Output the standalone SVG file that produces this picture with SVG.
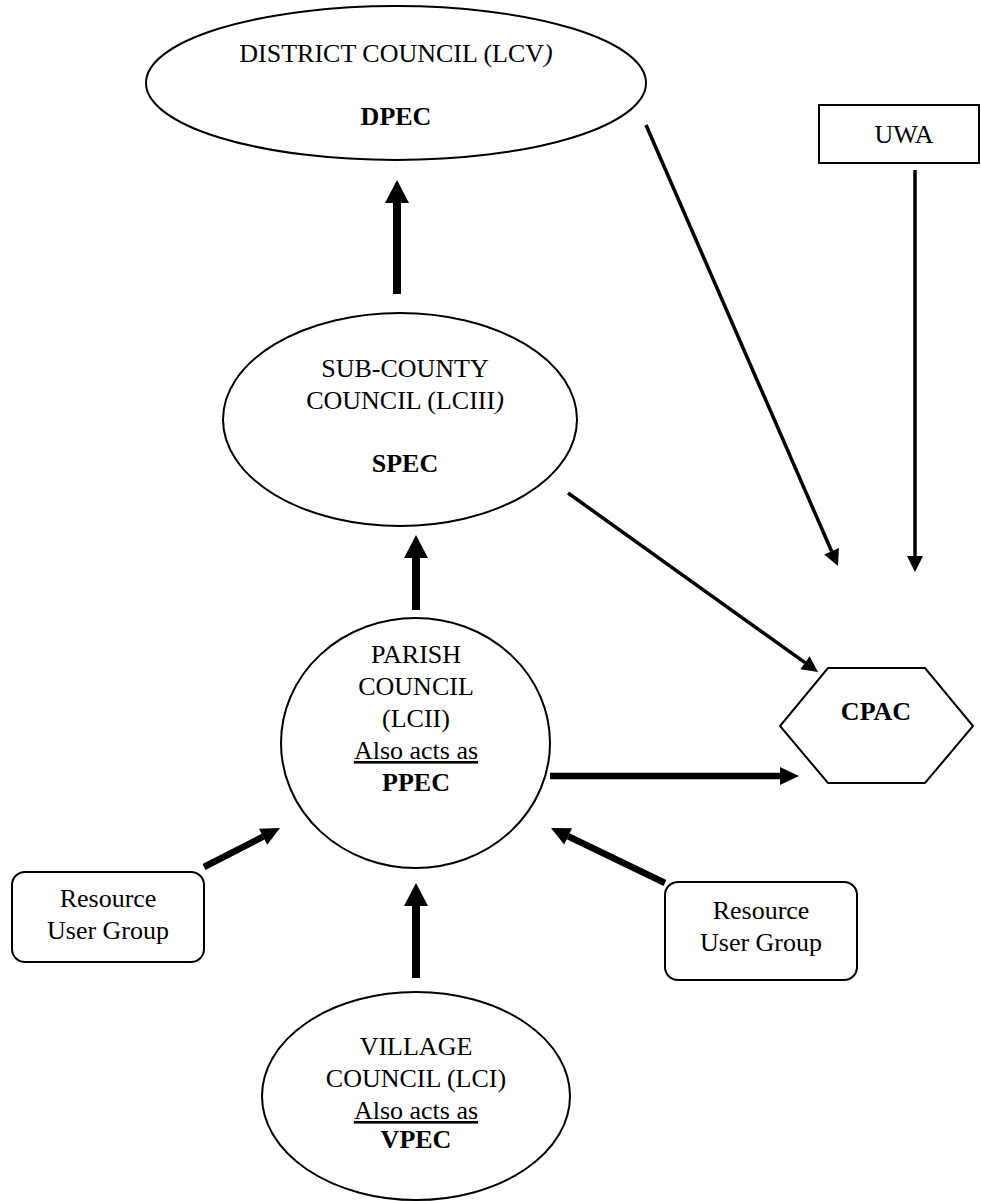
<svg xmlns="http://www.w3.org/2000/svg" width="981" height="1201" viewBox="0 0 981 1201">
<style>
.shape{fill:#fff;stroke:#000;stroke-width:2}
.t{font-family:"Liberation Serif","Times New Roman",serif;font-size:26px;fill:#000;text-anchor:middle}
.b{font-weight:bold}
.i{font-style:italic}
.u{text-decoration:underline}
.thin{stroke:#000;stroke-width:3.5;fill:none}
.mid{stroke:#000;stroke-width:6.5;fill:none}
.thick{stroke:#000;stroke-width:8;fill:none}
</style>
<defs>
<marker id="hThin" markerUnits="userSpaceOnUse" markerWidth="16" markerHeight="16" refX="0" refY="8" orient="auto" overflow="visible"><path d="M0,0 L16,8 L0,16 z" fill="#000"/></marker>
<marker id="hMid" markerUnits="userSpaceOnUse" markerWidth="19" markerHeight="18" refX="0" refY="9" orient="auto" overflow="visible"><path d="M0,0 L19,9 L0,18 z" fill="#000"/></marker>
<marker id="hThick" markerUnits="userSpaceOnUse" markerWidth="23" markerHeight="24" refX="0" refY="12" orient="auto" overflow="visible"><path d="M0,0 L23,12 L0,24 z" fill="#000"/></marker>
</defs>
<rect width="981" height="1201" fill="#fff"/>
<g id="connectors">
<line class="thin" x1="646" y1="125" x2="831.6" y2="551.3" marker-end="url(#hThin)"/>
<line class="thin" x1="915" y1="170" x2="915" y2="556" marker-end="url(#hThin)"/>
<line class="thin" x1="568" y1="493" x2="805" y2="662.7" marker-end="url(#hThin)"/>
<line class="thick" x1="397" y1="294" x2="397" y2="203" marker-end="url(#hThick)"/>
<line class="thick" x1="416" y1="610" x2="416" y2="558" marker-end="url(#hThick)"/>
<line class="thick" x1="416" y1="978" x2="416" y2="906" marker-end="url(#hThick)"/>
<line class="mid" x1="550" y1="776" x2="780" y2="776" marker-end="url(#hMid)"/>
<line class="mid" x1="204" y1="867" x2="263.1" y2="836.7" marker-end="url(#hMid)"/>
<line class="mid" x1="665" y1="883" x2="568.1" y2="836.3" marker-end="url(#hMid)"/>
</g>
<g id="district">
<ellipse class="shape" cx="396" cy="83" rx="250" ry="77"/>
<text class="t" x="396" y="62">DISTRICT COUNCIL (LCV<tspan class="i">)</tspan></text>
<text class="t b" x="396" y="125">DPEC</text>
</g>
<g id="uwa">
<rect class="shape" x="819" y="105" width="160" height="58"/>
<text class="t" x="904" y="143">UWA</text>
</g>
<g id="subcounty">
<ellipse class="shape" cx="400" cy="419.5" rx="177" ry="106.5"/>
<text class="t" x="405" y="377">SUB-COUNTY</text>
<text class="t" x="405" y="409">COUNCIL (LCIII<tspan class="i">)</tspan></text>
<text class="t b" x="405" y="472">SPEC</text>
</g>
<g id="cpac">
<polygon class="shape" points="828,668 925,668 973,726 925,783 828,783 780,726"/>
<text class="t b" x="876" y="720">CPAC</text>
</g>
<g id="parish">
<ellipse class="shape" cx="415.5" cy="743" rx="134.5" ry="125"/>
<text class="t" x="416" y="663">PARISH</text>
<text class="t" x="416" y="695">COUNCIL</text>
<text class="t" x="416" y="727">(LCII)</text>
<text class="t u" x="416" y="759">Also acts as</text>
<text class="t b" x="416" y="791">PPEC</text>
</g>
<g id="rug-left">
<rect class="shape" x="12" y="872" width="192" height="90" rx="13"/>
<text class="t" x="108" y="907">Resource</text>
<text class="t" x="108" y="939">User Group</text>
</g>
<g id="rug-right">
<rect class="shape" x="665" y="882" width="192" height="98" rx="13"/>
<text class="t" x="761" y="919">Resource</text>
<text class="t" x="761" y="951">User Group</text>
</g>
<g id="village">
<ellipse class="shape" cx="416" cy="1096" rx="154" ry="104"/>
<text class="t" x="416" y="1055">VILLAGE</text>
<text class="t" x="416" y="1087">COUNCIL (LCI)</text>
<text class="t u" x="416" y="1119">Also acts as</text>
<text class="t b" x="416" y="1148">VPEC</text>
</g>
</svg>
